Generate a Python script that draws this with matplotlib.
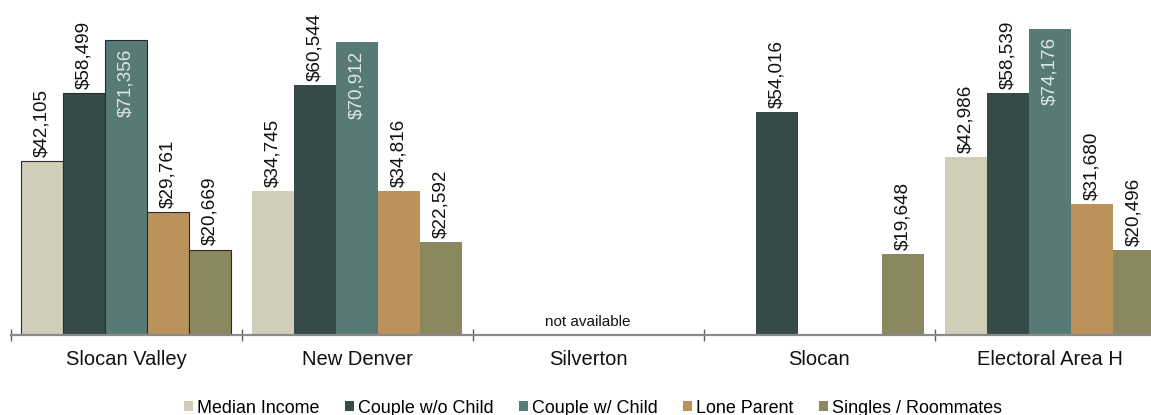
import matplotlib
matplotlib.use("Agg")
import matplotlib.pyplot as plt
import numpy as np
from matplotlib import font_manager

# Median household income by community and household type
communities = ["Slocan Valley", "New Denver", "Silverton", "Slocan", "Electoral Area H"]
household_types = ["Median Income", "Couple w/o Child", "Couple w/ Child",
                   "Lone Parent", "Singles / Roommates"]
median_income = [42105, 34745, np.nan, np.nan, 42986]
couple_no_child = [58499, 60544, np.nan, 54016, 58539]
couple_with_child = [71356, 70912, np.nan, np.nan, 74176]
lone_parent = [29761, 34816, np.nan, np.nan, 31680]
singles_roommates = [20669, 22592, np.nan, 19648, 20496]
missing_note = "not available"

series = [median_income, couple_no_child, couple_with_child, lone_parent, singles_roommates]
colors = ["#d0cdb8", "#364a48", "#577a77", "#bb925a", "#8b875e"]

installed = {f.name for f in font_manager.fontManager.ttflist}
base_font = "Liberation Sans" if "Liberation Sans" in installed else "DejaVu Sans"
narrow_font = "Liberation Sans Narrow" if "Liberation Sans Narrow" in installed else base_font
plt.rcParams["font.family"] = [base_font, "DejaVu Sans"]

W, H, DPI = 1151, 415, 100
fig = plt.figure(figsize=(W / DPI, H / DPI), dpi=DPI)
ax = fig.add_axes([10.7 / W, 80 / H, 1155 / W, 335 / H])

n_series = len(series)
bar_w = 1 / 5.5
x = np.arange(len(communities))

for j, (vals, col) in enumerate(zip(series, colors)):
    vals = np.asarray(vals, dtype=float)
    for i, v in enumerate(vals):
        if np.isnan(v):
            continue
        xpos = x[i] + (j - (n_series - 1) / 2) * bar_w
        edge = "#2b2b2b" if i == 0 else "none"
        ax.bar(xpos, v, width=bar_w, color=col, edgecolor=edge,
               linewidth=0.8 if i == 0 else 0, zorder=2)
        label = f"${v:,.0f}"
        if j == 2:
            ax.annotate(label, (xpos, v), xytext=(0, -6), textcoords="offset points",
                        rotation=90, ha="center", va="top", fontsize=13.6,
                        color="#dfe6e5", zorder=3)
        else:
            ax.annotate(label, (xpos, v), xytext=(0, 3), textcoords="offset points",
                        rotation=90, ha="center", va="bottom", fontsize=13.6,
                        color="#111111", zorder=3)

# Legend proxies
for name, col in zip(household_types, colors):
    ax.bar(np.nan, np.nan, color=col, label=name)

# Community with no data
ax.text(x[2], 1500, missing_note, ha="center", va="bottom", fontsize=11,
        family=[narrow_font, "DejaVu Sans"], color="#111111")

ax.set_xlim(-0.5, len(communities) - 0.5)
ax.set_ylim(0, 81100)

for s in ["top", "left", "right"]:
    ax.spines[s].set_visible(False)
ax.spines["bottom"].set_color("#8a8a8a")
ax.spines["bottom"].set_linewidth(1.6)
ax.set_yticks([])

ax.set_xticks(x)
ax.set_xticklabels(communities, fontsize=14.5, color="#111111")
ax.tick_params(axis="x", which="major", length=0, pad=11)
ax.set_xticks(np.arange(-0.5, len(communities)), minor=True)
ax.tick_params(axis="x", which="minor", direction="inout", length=8,
               width=1, color="#606060")

handles, labels = ax.get_legend_handles_labels()
fig.legend(handles, labels, loc="center", bbox_to_anchor=(593 / W, 7 / H),
           ncol=5, frameon=False, handlelength=0.5,
           handleheight=0.5, handletextpad=0.2, columnspacing=1.45,
           prop={"family": [narrow_font, "DejaVu Sans"], "size": 12.9})

fig.savefig("out.png", dpi=DPI)
